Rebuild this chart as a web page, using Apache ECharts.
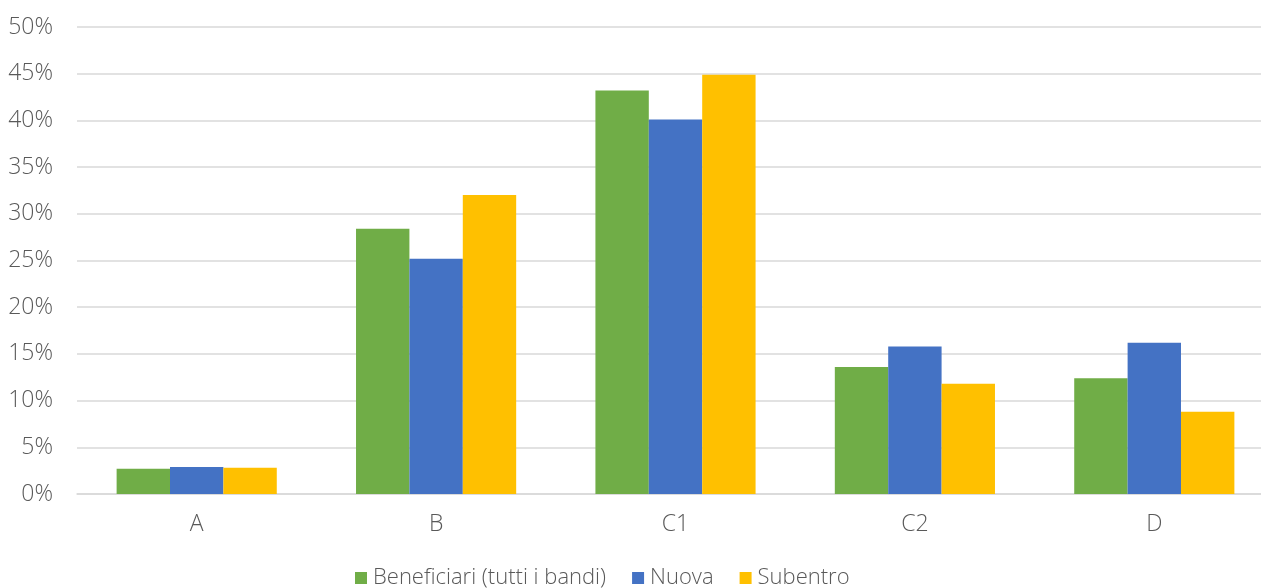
<!DOCTYPE html>
<html><head><meta charset="utf-8">
<script src="https://cdn.jsdelivr.net/npm/echarts@6/dist/echarts.min.js"></script>
<style>html,body{margin:0;padding:0;background:#fff;overflow:hidden}#c{width:1274px;height:588px}</style>
</head><body><div id="c"></div>
<script>
const categories = ['A', 'B', 'C1', 'C2', 'D'];
const beneficiari = [2.7, 28.4, 43.2, 13.6, 12.4];
const nuova = [2.9, 25.2, 40.1, 15.8, 16.2];
const subentro = [2.8, 32.0, 44.9, 11.8, 8.8];
const seriesNames = ['Beneficiari (tutti i bandi)', 'Nuova', 'Subentro'];
const colors = ['#70ad47', '#4472c4', '#ffc000'];

const font = '"Open Sans", sans-serif';
const chart = echarts.init(document.getElementById('c'));
chart.setOption({
  animation: false,
  color: colors,
  textStyle: { fontFamily: font, fontWeight: 300 },
  grid: { left: 77, right: 0, top: 27, bottom: 94, containLabel: false },
  legend: {
    bottom: -6, left: 350, itemWidth: 12, itemHeight: 12, itemGap: 26,
    textStyle: { fontSize: 22, color: '#595959', fontFamily: font, fontWeight: 300, padding: [0,0,0,1] },
    data: seriesNames, icon: 'rect'
  },
  xAxis: {
    type: 'category', data: categories,
    axisLine: { lineStyle: { color: '#d9d9d9', width: 1.5 } },
    axisTick: { show: false },
    axisLabel: { fontSize: 23, color: '#595959', fontWeight: 300, margin: 19 }
  },
  yAxis: {
    type: 'value', min: 0, max: 50, interval: 5,
    axisLabel: { formatter: '{value}%', fontSize: 23, color: '#595959', fontWeight: 300, margin: 24 },
    splitLine: { lineStyle: { color: '#d9d9d9', width: 1.5 } },
    axisLine: { show: false }, axisTick: { show: false }
  },
  series: [
    { name: seriesNames[0], type: 'bar', data: beneficiari, barGap: '0%', barCategoryGap: '33.1%' },
    { name: seriesNames[1], type: 'bar', data: nuova, barGap: '0%', barCategoryGap: '33.1%' },
    { name: seriesNames[2], type: 'bar', data: subentro, barGap: '0%', barCategoryGap: '33.1%' }
  ]
});
</script></body></html>
